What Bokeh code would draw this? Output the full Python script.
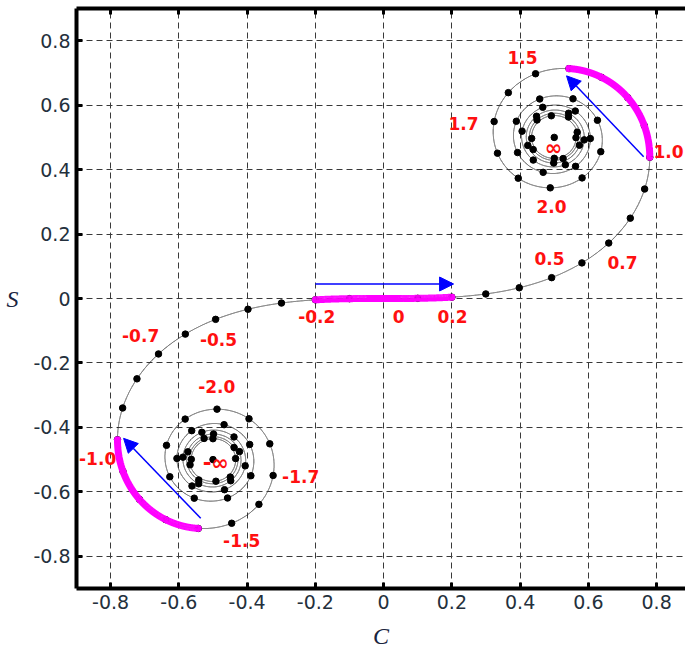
import numpy as np
from bokeh.plotting import figure
from bokeh.models import (Range1d, FixedTicker, LinearAxis, CustomJSTickFormatter,
                          ColumnDataSource, LabelSet, Arrow, NormalHead)
from bokeh.core.properties import value
from bokeh.embed import file_html
from bokeh.resources import INLINE

# ---------------- data ----------------
T_MAX = 5.0                                   # parameter extent of the spiral
DOT_T = [round(0.1 * k, 1) for k in range(-50, 51)]   # marked parameter values
HIGHLIGHT_T = [(-0.2, 0.2), (1.0, 1.4), (-1.4, -1.0)]  # magenta arcs
CENTER_X = [0.5, -0.5]
CENTER_Y = [0.5, -0.5]

TICKS = [-0.8, -0.6, -0.4, -0.2, 0.0, 0.2, 0.4, 0.6, 0.8]

LABEL_TEXT = ["1.5", "1.7", "1.0", "2.0", "0.5", "0.7", "-0.2", "0", "0.2",
              "-0.7", "-0.5", "-2.0", "-1.0", "-1.7", "-1.5"]
LABEL_X = [0.407, 0.234, 0.835, 0.492, 0.486, 0.70, -0.196, 0.044, 0.202,
           -0.712, -0.484, -0.489, -0.838, -0.243, -0.416]
LABEL_Y = [0.747, 0.543, 0.456, 0.285, 0.124, 0.112, -0.056, -0.056, -0.056,
           -0.115, -0.127, -0.273, -0.496, -0.552, -0.750]
INF_TEXT = ["\u221e", "-\u221e"]
INF_X = [0.498, -0.492]
INF_Y = [0.468, -0.512]

ARROW_X0 = [-0.2, 0.762, -0.536]
ARROW_Y0 = [0.045, 0.440, -0.682]
ARROW_X1 = [0.205, 0.536, -0.762]
ARROW_Y1 = [0.045, 0.691, -0.434]

# ---------------- Fresnel integrals (Cornu spiral) ----------------
N = 50001
s = np.linspace(0.0, T_MAX, N)
ds = s[1] - s[0]
fc = np.cos(np.pi * s ** 2 / 2)
fs = np.sin(np.pi * s ** 2 / 2)
Cp = np.concatenate([[0.0], np.cumsum((fc[1:] + fc[:-1]) / 2 * ds)])
Sp = np.concatenate([[0.0], np.cumsum((fs[1:] + fs[:-1]) / 2 * ds)])

t_full = np.concatenate([-s[::-1], s[1:]])
C_full = np.concatenate([-Cp[::-1], Cp[1:]])
S_full = np.concatenate([-Sp[::-1], Sp[1:]])


def fresnel(t):
    i = int(round(abs(t) / ds))
    sg = 1.0 if t >= 0 else -1.0
    return sg * Cp[i], sg * Sp[i]


dots = [fresnel(t) for t in DOT_T]

# ---------------- figure ----------------
p = figure(frame_width=609, frame_height=580,
           x_range=Range1d(-0.9, 0.8846), y_range=Range1d(-0.9, 0.9),
           output_backend="svg", toolbar_location=None, tools="",
           min_border_left=76, min_border_right=0, min_border_top=8, min_border_bottom=40)
p.outline_line_color = None
p.background_fill_color = "white"

ticker = FixedTicker(ticks=TICKS)
fmt = CustomJSTickFormatter(code="return Math.abs(tick) < 1e-9 ? '0' : tick.toFixed(1);")

for ax in (p.xaxis[0], p.yaxis[0]):
    ax.ticker = ticker
    ax.formatter = fmt
    ax.axis_line_width = 4
    ax.axis_line_color = "black"
    ax.major_tick_in = 6
    ax.major_tick_out = 0
    ax.major_tick_line_width = 3
    ax.minor_tick_line_color = None
    ax.major_label_text_font = "DejaVu Sans"
    ax.major_label_text_font_size = "19px"
    ax.major_label_text_color = "#24303c"
    ax.axis_label_text_font = "Liberation Serif"
    ax.axis_label_text_font_style = "italic"
    ax.axis_label_text_font_size = "24px"
    ax.axis_label_text_color = "#1a2540"

p.xaxis.axis_label = "C"
p.xaxis.major_label_standoff = 6
p.xaxis.axis_label_standoff = 11
p.yaxis.axis_label = "S"
p.yaxis.major_label_standoff = 6
p.yaxis.axis_label_standoff = 12
p.yaxis.axis_label_orientation = "horizontal"
p.yaxis.major_label_orientation = "horizontal"

top = LinearAxis(ticker=ticker,
                 formatter=CustomJSTickFormatter(code="return '';"),
                 axis_line_width=4, axis_line_color="black",
                 major_tick_in=6, major_tick_out=0, major_tick_line_width=3,
                 minor_tick_line_color=None, major_label_standoff=0,
                 major_label_text_font_size="1px")
p.add_layout(top, "above")

p.xgrid.ticker = ticker
p.ygrid.ticker = ticker
for g in (p.xgrid[0], p.ygrid[0]):
    g.grid_line_color = "#3a3a3a"
    g.grid_line_dash = "6 4"
    g.grid_line_width = 1

# spiral curve
p.line(C_full, S_full, line_color="#505050", line_width=1)
# dots
p.scatter([d[0] for d in dots], [d[1] for d in dots], size=6.5, color="black")
p.scatter(CENTER_X, CENTER_Y, size=6.5, color="black")

# magenta arcs
for a, b in HIGHLIGHT_T:
    m = (t_full >= a - 1e-9) & (t_full <= b + 1e-9)
    p.line(C_full[m], S_full[m], line_color="#ff00ff", line_width=7, line_cap="round")

# arrows
asrc = ColumnDataSource(dict(x0=ARROW_X0, y0=ARROW_Y0, x1=ARROW_X1, y1=ARROW_Y1))
p.add_layout(Arrow(end=NormalHead(size=14, fill_color="blue", line_color="blue", line_width=1),
                   x_start="x0", y_start="y0", x_end="x1", y_end="y1", source=asrc,
                   line_color="blue", line_width=1.5))

# labels
lsrc = ColumnDataSource(dict(x=LABEL_X, y=LABEL_Y, t=LABEL_TEXT))
p.add_layout(LabelSet(x="x", y="y", text="t", source=lsrc, text_align="center",
                      text_baseline="middle", text_color="#ff1010",
                      text_font=value("DejaVu Sans"), text_font_style="bold",
                      text_font_size=value("17px")))
isrc = ColumnDataSource(dict(x=INF_X, y=INF_Y, t=INF_TEXT))
p.add_layout(LabelSet(x="x", y="y", text="t", source=isrc, text_align="center",
                      text_baseline="middle", text_color="#ff1010",
                      text_font=value("DejaVu Sans"), text_font_style="bold",
                      text_font_size=value("21px")))

open("out.html", "w").write(file_html(p, INLINE))
